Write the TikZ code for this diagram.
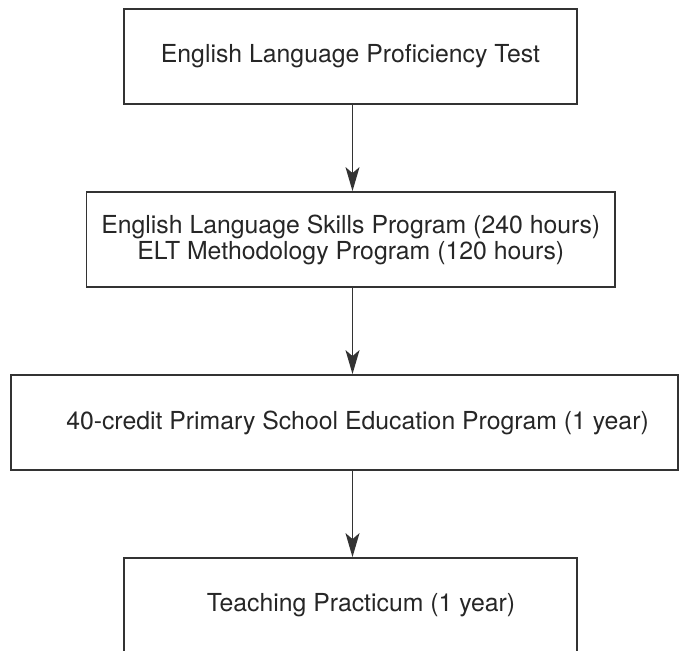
\documentclass[tikz,border=0pt]{standalone}
\usepackage{fontspec}
\setmainfont{TeX Gyre Heros}
\usepackage{tikz}
\usetikzlibrary{arrows.meta}

\tikzset{
    stagebox/.style={draw=black!80,line width=0.9pt,text=black!85,
        minimum height=47.5pt,inner sep=0pt,align=center,
        font=\fontsize{12.4}{13}\selectfont},
    flow/.style={draw=black!80,line width=0.7pt,
        -{Stealth[length=12pt,width=7pt,inset=3pt]}}
}

\begin{document}
\begin{tikzpicture}[x=0.5pt,y=-0.5pt]
            \useasboundingbox (0,0) rectangle (679,650);
            %\draw[help lines] (0,0) grid[step=50] (679,650);
            \node[stagebox,minimum width=226.5pt] (test) at (350.5,56.5) {English Language Proficiency Test};
            \node[stagebox,minimum width=264.25pt] (skills) at (350.75,239.5) {English Language Skills Program (240 hours)\\ELT Methodology Program (120 hours)};
            \node[stagebox,minimum width=333.5pt] (credit) at (344.5,422.5) {\hspace*{13pt}40-credit Primary School Education Program (1 year)};
            \node[stagebox,minimum width=226.5pt] (practicum) at (350.5,605.5) {\hspace*{10.5pt}Teaching Practicum (1 year)};
            \coordinate (ax) at (352.5,0);
            \draw[flow] (test.south -| ax)--(skills.north -| ax);
            \draw[flow] (skills.south -| ax)--(credit.north -| ax);
            \draw[flow] (credit.south -| ax)--(practicum.north -| ax);
        \end{tikzpicture}
\end{document}
